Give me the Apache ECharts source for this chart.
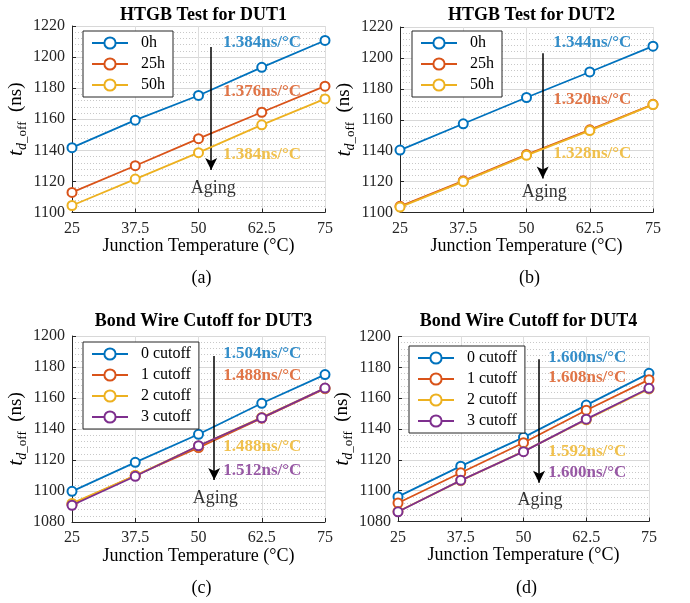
<!DOCTYPE html>
<html>
<head>
<meta charset="utf-8">
<script src="https://cdn.jsdelivr.net/npm/echarts@6/dist/echarts.min.js"></script>
<style>
html,body{margin:0;padding:0;background:#fff;}
#chart{width:690px;height:603px;}
</style>
</head>
<body>
<div id="chart"></div>
<script>
// ---- data ----
const xTemps = [25, 37.5, 50, 62.5, 75];
const xTicks = ['25', '37.5', '50', '62.5', '75'];

const dut1_0h  = [1141.7, 1159.4, 1175.3, 1193.4, 1210.7];
const dut1_25h = [1112.9, 1130.1, 1147.5, 1164.5, 1181.3];
const dut1_50h = [1104.5, 1121.5, 1138.5, 1156.4, 1173.1];

const dut2_0h  = [1140.4, 1157.4, 1174.4, 1190.9, 1207.6];
const dut2_25h = [1104.0, 1120.5, 1137.5, 1153.5, 1170.0];
const dut2_50h = [1103.5, 1120.0, 1137.0, 1153.0, 1169.8];

const dut3_c0 = [1099.8, 1118.5, 1136.6, 1156.6, 1175.1];
const dut3_c1 = [1091.5, 1110.0, 1128.0, 1147.0, 1166.0];
const dut3_c2 = [1092.0, 1110.0, 1129.0, 1147.5, 1166.3];
const dut3_c3 = [1090.8, 1109.5, 1129.2, 1147.2, 1166.4];

const dut4_c0 = [1096.1, 1115.9, 1134.6, 1155.5, 1176.1];
const dut4_c1 = [1092.0, 1111.6, 1131.1, 1152.2, 1172.0];
const dut4_c2 = [1086.5, 1106.5, 1125.5, 1146.0, 1166.0];
const dut4_c3 = [1086.3, 1106.7, 1125.3, 1146.4, 1166.4];

const htgbNames = ['0h', '25h', '50h'];
const cutNames = ['0 cutoff', '1 cutoff', '2 cutoff', '3 cutoff'];

const titles = ['HTGB Test for DUT1', 'HTGB Test for DUT2', 'Bond Wire Cutoff for DUT3', 'Bond Wire Cutoff for DUT4'];
const captions = ['(a)', '(b)', '(c)', '(d)'];

const slopes1 = ['1.384ns/°C', '1.376ns/°C', '1.384ns/°C'];
const slopes2 = ['1.344ns/°C', '1.320ns/°C', '1.328ns/°C'];
const slopes3 = ['1.504ns/°C', '1.488ns/°C', '1.488ns/°C', '1.512ns/°C'];
const slopes4 = ['1.600ns/°C', '1.608ns/°C', '1.592ns/°C', '1.600ns/°C'];

// annotation anchor positions in data units [x, y]
const slopePos1 = [[62.55, 1209.3], [62.55, 1177.5], [62.55, 1137.0]];
const slopePos2 = [[63.0, 1209.8], [63.0, 1172.8], [63.0, 1138.3]];
const slopePos3 = [[62.6, 1188.8], [62.6, 1174.2], [62.6, 1128.6], [62.6, 1113.1]];
const slopePos4 = [[62.7, 1186.6], [62.7, 1173.3], [62.7, 1125.2], [62.7, 1111.9]];
const arrows = [[52.5, 1206.5, 1127.3], [53.2, 1203, 1122], [53.1, 1187.1, 1107.1], [53.1, 1185.3, 1105.1]];
const agingPos = [[52.9, 1115.8], [53.5, 1112.8], [53.3, 1095.3], [53.3, 1093.8]];

const yRanges = [[1100, 1220], [1100, 1220], [1080, 1200], [1080, 1200]];

// ---- style ----
const FONT = '"Liberation Serif", "DejaVu Serif", serif';
const colors = ['#0072BD', '#D95319', '#EDB120', '#7E2F8E'];
const axisColor = '#262626';

const grids = [
  {left: 72, top: 26, width: 253, height: 186.5},
  {left: 400, top: 27, width: 253, height: 185.5},
  {left: 72, top: 336, width: 253, height: 186},
  {left: 398, top: 336.5, width: 251, height: 185}
];
const legendPos = [
  {left: 83, top: 31},
  {left: 412, top: 31},
  {left: 83, top: 342},
  {left: 409, top: 346}
];

const panels = [
  {names: htgbNames, data: [dut1_0h, dut1_25h, dut1_50h], slopes: slopes1, pos: slopePos1},
  {names: htgbNames, data: [dut2_0h, dut2_25h, dut2_50h], slopes: slopes2, pos: slopePos2},
  {names: cutNames, data: [dut3_c0, dut3_c1, dut3_c2, dut3_c3], slopes: slopes3, pos: slopePos3},
  {names: cutNames, data: [dut4_c0, dut4_c1, dut4_c2, dut4_c3], slopes: slopes4, pos: slopePos4}
];

const option = {
  animation: false,
  backgroundColor: '#fff',
  textStyle: {fontFamily: FONT},
  grid: grids.map(g => Object.assign({outerBoundsMode: 'none', containLabel: false}, g)),
  title: [],
  legend: [],
  xAxis: [],
  yAxis: [],
  series: []
};

panels.forEach((p, i) => {
  const g = grids[i];
  const cx = g.left + g.width / 2;
  option.title.push({
    text: titles[i], left: cx, top: i < 2 ? 1 : 307, textAlign: 'center',
    textStyle: {fontFamily: FONT, fontWeight: 'bold', fontSize: 18, color: '#000'}
  });
  option.title.push({
    text: captions[i], left: cx - 2, top: i < 2 ? 264 : 574, textAlign: 'center',
    textStyle: {fontFamily: FONT, fontWeight: 'normal', fontSize: 18, color: '#000'}
  });
  option.xAxis.push({
    type: 'value', gridIndex: i, min: 25, max: 75, interval: 12.5,
    name: 'Junction Temperature (°C)', nameLocation: 'middle', nameGap: 25,
    nameTextStyle: {fontFamily: FONT, fontSize: 18, color: '#000'},
    axisLine: {show: true, lineStyle: {color: axisColor, width: 1}},
    axisTick: {show: true, inside: true, length: 4, lineStyle: {color: axisColor}},
    axisLabel: {fontFamily: FONT, fontSize: 16, color: axisColor, margin: 8,
      formatter: v => { const k = xTemps.indexOf(v); return k >= 0 ? xTicks[k] : ''; }},
    splitLine: {show: true, lineStyle: {color: '#dedede', width: 1}}
  });
  option.yAxis.push({
    type: 'value', gridIndex: i, min: yRanges[i][0], max: yRanges[i][1], interval: 20,
    name: '{t|t}{d|d}{o|_off}{n|  (ns)}', nameLocation: 'middle', nameGap: 40, nameRotate: 90,
    nameTextStyle: {
      fontFamily: FONT, color: '#000',
      rich: {
        t: {fontFamily: FONT, fontStyle: 'italic', fontSize: 22, lineHeight: 26, verticalAlign: 'middle', color: '#000'},
        d: {fontFamily: FONT, fontStyle: 'italic', fontSize: 14, lineHeight: 14, verticalAlign: 'bottom', color: '#000'},
        o: {fontFamily: FONT, fontSize: 13, lineHeight: 18, verticalAlign: 'bottom', color: '#000'},
        n: {fontFamily: FONT, fontSize: 19, lineHeight: 26, verticalAlign: 'middle', color: '#000'}
      }
    },
    axisLine: {show: true, lineStyle: {color: axisColor, width: 1}},
    axisTick: {show: true, inside: true, length: 4, lineStyle: {color: axisColor}},
    axisLabel: {fontFamily: FONT, fontSize: 16, color: axisColor, margin: 7,
      formatter: v => String(v)},
    splitLine: {show: true, lineStyle: {color: '#d8d8d8', width: 1}},
    minorTick: {show: false, splitNumber: 5},
    minorSplitLine: {show: true, lineStyle: {color: '#c8c8c8', type: [1, 2], width: 1}}
  });
  option.legend.push({
    data: p.names, orient: 'vertical', left: legendPos[i].left, top: legendPos[i].top,
    backgroundColor: '#fff', borderColor: axisColor, borderWidth: 1,
    padding: [4, 8, 4, 8], itemGap: 5, itemWidth: 36, itemHeight: 14, align: 'left',
    formatter: name => '{s|' + name + '}',
    textStyle: {fontFamily: FONT, fontSize: 16, color: '#000', padding: [0, 0, 0, 8],
      rich: {s: {fontFamily: FONT, fontSize: 16, color: '#000'}}},
    selectedMode: false
  });
  p.data.forEach((vals, k) => {
    option.series.push({
      type: 'line', name: p.names[k], xAxisIndex: i, yAxisIndex: i,
      data: xTemps.map((x, j) => [x, vals[j]]),
      color: colors[k],
      symbol: 'emptyCircle', symbolSize: 9, showAllSymbol: true,
      lineStyle: {width: 1.8, color: colors[k]},
      itemStyle: {color: colors[k], borderWidth: 1.6, borderColor: colors[k]},
      z: 3 + k
    });
  });
  // annotations
  const annData = p.slopes.map((s, k) => ({
    value: p.pos[k],
    label: {show: true, position: 'inside', formatter: s, color: colors[k],
      fontFamily: FONT, fontWeight: 'bold', fontSize: 17}
  }));
  annData.push({
    value: agingPos[i],
    label: {show: true, position: 'inside', formatter: 'Aging', color: '#000',
      fontFamily: FONT, fontWeight: 'normal', fontSize: 18}
  });
  const a = arrows[i];
  option.series.push({
    type: 'scatter', xAxisIndex: i, yAxisIndex: i, symbolSize: 0.1, silent: true,
    itemStyle: {color: 'rgba(0,0,0,0)'},
    data: annData, z: 10,
    markLine: {
      silent: true, symbol: ['none', 'arrow'], symbolSize: [9, 12],
      label: {show: false},
      lineStyle: {color: '#000', width: 1.5, type: 'solid'},
      data: [[{coord: [a[0], a[1]]}, {coord: [a[0], a[2]]}]]
    }
  });
});

const chart = echarts.init(document.getElementById('chart'), null, {renderer: 'canvas'});
chart.setOption(option);
</script>
</body>
</html>
